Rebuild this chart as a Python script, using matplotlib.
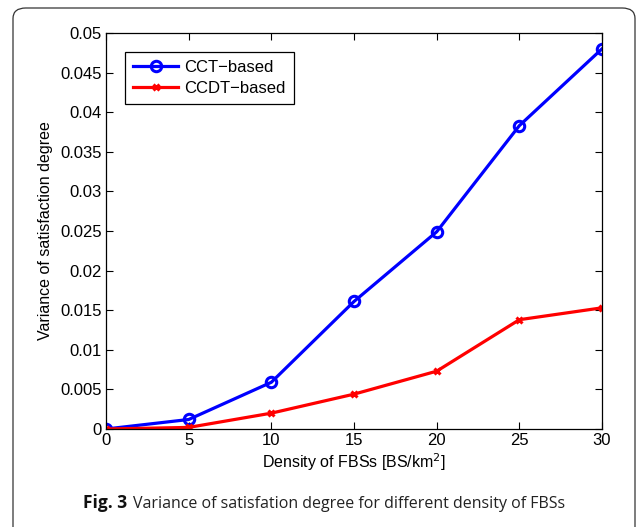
import matplotlib.pyplot as plt
from matplotlib.patches import FancyBboxPatch

density = [0, 5, 10, 15, 20, 25, 30]
cct_based = [0.0, 0.0012, 0.0059, 0.0161, 0.0249, 0.0383, 0.0480]
ccdt_based = [0.0, 0.0002, 0.0020, 0.0044, 0.0073, 0.0138, 0.0153]

plt.rcParams['font.family'] = ['Liberation Sans', 'DejaVu Sans']

fig = plt.figure(figsize=(6.37, 5.27), dpi=100)

# rounded frame around figure and caption
frame = FancyBboxPatch((13 / 637, -0.05), 622 / 637, 1 - 8 / 527 + 0.05,
                       boxstyle='round,pad=0,rounding_size=0.02',
                       transform=fig.transFigure, fill=False,
                       edgecolor='#333333', linewidth=0.9)
fig.patches.append(frame)

ax = fig.add_axes([106 / 637, 1 - 429 / 527, 496 / 637, 396 / 527])
ax.plot(density, cct_based, color='#0000ff', linewidth=2.3, marker='o',
        markersize=7.5, markerfacecolor='none', markeredgewidth=2.2, label='CCT\u2212based')
ax.plot(density, ccdt_based, color='#ff0000', linewidth=2.3, marker='x',
        markersize=5, markeredgewidth=2.2, label='CCDT\u2212based')

ax.set_xlim(0, 30)
ax.set_ylim(0, 0.05)
ax.set_xticks(density)
yt = [i * 0.005 for i in range(11)]
ax.set_yticks(yt)
ax.set_yticklabels(['0'] + ['%g' % round(v, 3) for v in yt[1:]])
ax.tick_params(direction='in', labelsize=12, top=True, right=True, length=5, pad=3)
for s in ax.spines.values():
    s.set_linewidth(0.9)

ax.set_xlabel('Density of FBSs [BS/km$^2$]', fontsize=11.5, labelpad=2)
ax.set_ylabel('Variance of satisfaction degree', fontsize=11.5, labelpad=5)

leg = ax.legend(loc='upper left', bbox_to_anchor=(0.038, 0.953), fontsize=12,
                fancybox=False, edgecolor='black', framealpha=1,
                handlelength=2.7, borderpad=0.5, labelspacing=0.35,
                handletextpad=0.35, borderaxespad=0)
leg.get_frame().set_linewidth(0.9)

fig.text(83 / 637, 1 - 508 / 527, 'Fig. 3', fontsize=12.5, fontweight='bold',
         family=['Open Sans', 'DejaVu Sans'], ha='left', va='baseline', color='#111111')
fig.text(133 / 637, 1 - 508 / 527, 'Variance of satisfation degree for different density of FBSs',
         fontsize=11.5, family=['Open Sans', 'DejaVu Sans'], ha='left', va='baseline',
         color='#222222')

fig.savefig('out.png', dpi=100)
